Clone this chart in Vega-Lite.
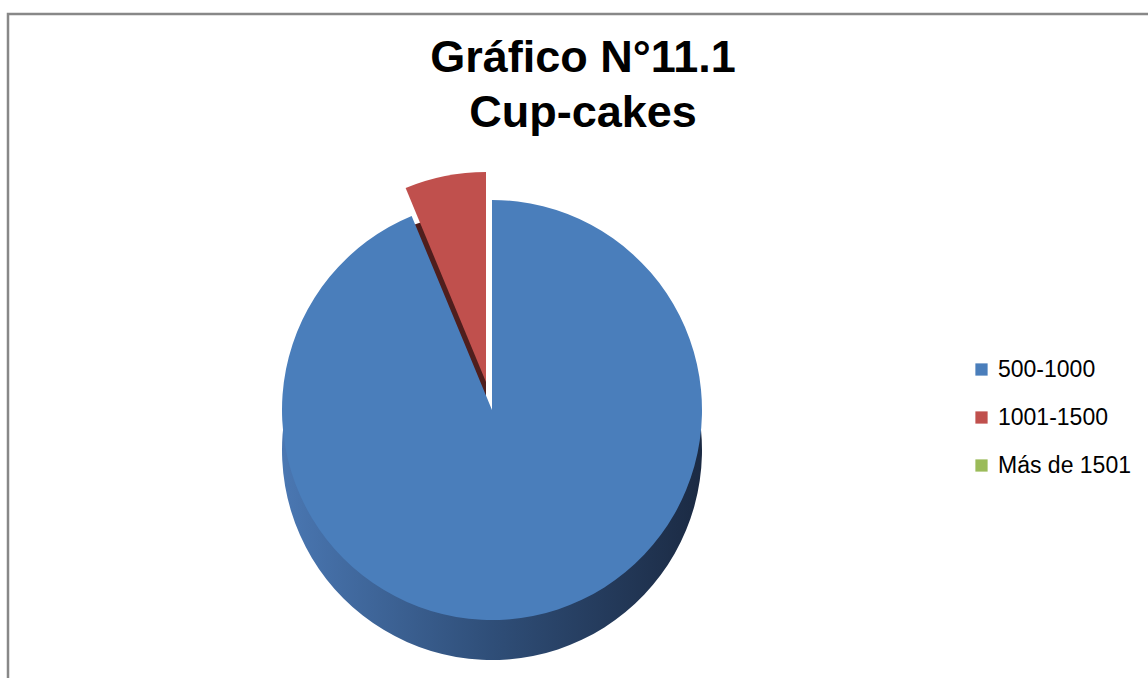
{
  "$schema": "https://vega.github.io/schema/vega-lite/v6.json",
  "autosize": {"type": "none"},
  "padding": {"left": 8, "top": 14, "right": 0, "bottom": 0},
  "width": 1150,
  "height": 674,
  "background": "white",
  "view": {"stroke": "#888888", "strokeWidth": 2.5},
  "config": {
    "font": "Liberation Sans"
  },
  "title": {
    "text": ["Gráfico N°11.1", "Cup-cakes"],
    "font": "Liberation Sans",
    "fontSize": 45,
    "fontWeight": "bold",
    "color": "#000000",
    "lineHeight": 55,
    "anchor": "middle",
    "baseline": "top",
    "offset": 0,
    "dy": 122
  },
  "data": {
    "values": [
      {"cat": "500-1000", "value": 15, "order": 1},
      {"cat": "1001-1500", "value": 1, "order": 2},
      {"cat": "Más de 1501", "value": 0, "order": 3}
    ]
  },
  "encoding": {
    "theta": {"field": "value", "type": "quantitative", "stack": true},
    "order": {"field": "order", "type": "quantitative"}
  },
  "layer": [
    {
      "mark": {
        "type": "arc", "outerRadius": 210, "xOffset": -91, "yOffset": 99,
        "color": {"gradient": "linear", "x1": 0, "x2": 1, "y1": 0, "y2": 0,
          "stops": [
            {"offset": 0, "color": "#4a77b2"},
            {"offset": 0.5, "color": "#2f4e78"},
            {"offset": 1, "color": "#1b2a43"}
          ]}
      },
      "encoding": {
        "opacity": {"condition": {"test": "datum.cat === '500-1000'", "value": 1}, "value": 0}
      }
    },
    {
      "mark": {"type": "arc", "outerRadius": 210, "xOffset": -97, "yOffset": 71, "color": "#4f1e1d"},
      "encoding": {
        "opacity": {"condition": {"test": "datum.cat === '1001-1500'", "value": 1}, "value": 0}
      }
    },
    {
      "mark": {"type": "arc", "outerRadius": 210, "xOffset": -97, "yOffset": 31},
      "encoding": {
        "color": {
          "field": "cat", "type": "nominal", "sort": ["500-1000", "1001-1500", "Más de 1501"],
          "scale": {"domain": ["500-1000", "1001-1500", "Más de 1501"], "range": ["#4a7ebb", "#c0504d", "#9bbb59"]},
          "legend": {
            "title": null, "orient": "none", "legendX": 962, "legendY": 344,
            "symbolType": "square", "symbolSize": 150, "symbolStrokeWidth": 0,
            "labelFont": "Liberation Sans", "labelFontSize": 23, "labelColor": "#000000",
            "labelOffset": 5, "rowPadding": 24, "padding": 0
          }
        },
        "opacity": {"condition": {"test": "datum.cat === '1001-1500'", "value": 1}, "value": 0}
      }
    },
    {
      "mark": {"type": "arc", "outerRadius": 210, "xOffset": -91, "yOffset": 59},
      "encoding": {
        "color": {"field": "cat", "type": "nominal", "sort": ["500-1000", "1001-1500", "Más de 1501"]},
        "opacity": {"condition": {"test": "datum.cat === '500-1000'", "value": 1}, "value": 0}
      }
    }
  ]
}
